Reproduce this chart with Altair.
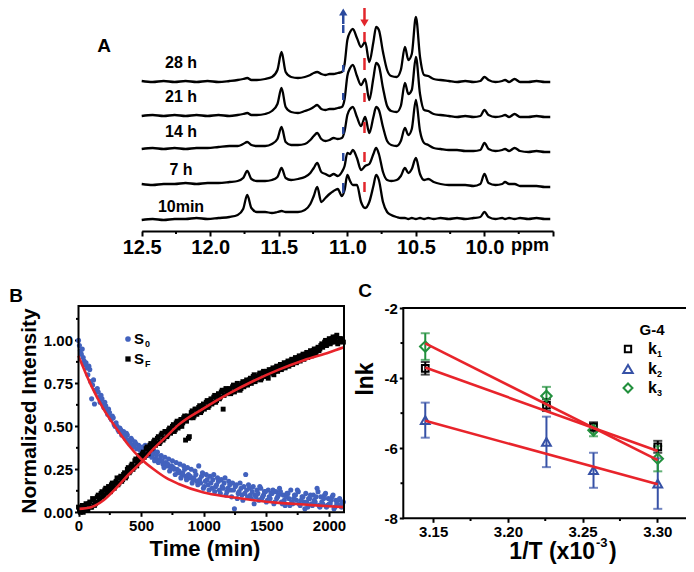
import altair as alt
import pandas as pd

# ======================= Panel A : 1H NMR imino region =======================
ppm = [12.50, 12.42, 12.34, 12.26, 12.18, 12.10, 12.02, 11.94, 11.86, 11.80,
       11.76, 11.73, 11.70, 11.66, 11.60, 11.55, 11.51, 11.48, 11.45, 11.41,
       11.36, 11.31, 11.27, 11.245, 11.22, 11.19, 11.16, 11.13, 11.10, 11.07,
       11.04, 11.02, 11.00, 10.98, 10.96, 10.93, 10.90, 10.87, 10.84, 10.81,
       10.79, 10.77, 10.74, 10.71, 10.68, 10.64, 10.61, 10.58, 10.555, 10.53,
       10.50, 10.47, 10.44, 10.41, 10.37, 10.32, 10.26, 10.20, 10.14, 10.08,
       10.03, 10.00, 9.97, 9.92, 9.87, 9.85, 9.82, 9.78, 9.74, 9.68,
       9.62, 9.56, 9.52]

spec_10min = [-2, -1, -2, -1, -1, 0, -1, 0, 1, 3,
              9, 23, 10, 6, 6, 5, 6, 7, 6, 6,
              6, 8, 14, 22, 31, 16, 20, 24, 27, 29,
              22, 28, 43, 37, 33, 33, 16, 10, 16, 32,
              43, 38, 16, 6, 3, 1, 0, 0, -1, 0,
              -1, 0, -1, 0, -1, 0, -1, 0, -1, 0,
              1, 6, 1, -1, 0, -1, 0, -1, 0, -1,
              0, -1, -1]
spec_7h = [0, -1, 0, 0, 1, 0, 1, 1, 2, 3,
           6, 13, 5, 3, 3, 4, 7, 16, 6, 4,
           5, 7, 11, 16, 21, 12, 10, 8, 10, 8,
           12, 18, 31, 30, 34, 26, 14, 18, 20, 30,
           36, 30, 12, 4, 3, 4, 8, 16, 11, 15,
           26, 10, 4, 5, 2, 0, -1, -1, -1, -2,
           0, 10, 1, -1, 0, 2, 0, 0, -2, -2,
           -2, -3, -3]
spec_14h = [0, 1, 0, 1, 0, 1, 1, 2, 3, 3,
            5, 7, 4, 3, 3, 5, 10, 22, 7, 4,
            4, 5, 9, 13, 16, 10, 8, 9, 11, 10,
            11, 18, 34, 40, 42, 32, 23, 32, 16, 32,
            42, 39, 22, 8, 4, 3, 8, 21, 14, 20,
            49, 18, 6, 4, 1, 0, -1, -1, -2, -2,
            -1, 6, 0, -2, -1, 0, -2, 1, -2, -3,
            -2, -3, -3]
spec_21h = [0, 1, 0, 1, 0, 1, 0, 1, 0, 1,
            2, 3, 1, 1, 2, 5, 12, 28, 9, 4,
            3, 5, 7, 9, 11, 7, 6, 7, 7, 8,
            9, 17, 40, 48, 51, 40, 31, 37, 16, 38,
            53, 50, 28, 10, 5, 4, 10, 33, 22, 26,
            59, 22, 6, 5, 2, 1, 0, -1, 0, -1,
            0, 6, 1, -1, 0, 1, -1, 2, -1, -1,
            0, -1, -1]
spec_28h = [1, 0, 1, 0, 1, 0, 1, 0, 1, 2,
            3, 4, 2, 2, 3, 5, 12, 30, 10, 5,
            4, 5, 7, 9, 10, 8, 7, 8, 8, 9,
            10, 18, 42, 50, 53, 44, 35, 40, 20, 40,
            55, 52, 30, 12, 6, 5, 12, 35, 22, 28,
            65, 25, 7, 6, 3, 2, 1, 0, 1, 0,
            1, 5, 2, 0, 1, 2, 0, 3, 0, 0,
            1, 0, 0]
spec_names = ["10min", "7 h", "14 h", "21 h", "28 h"]
specs = [spec_10min, spec_7h, spec_14h, spec_21h, spec_28h]

# marked resonances (blue: growing, red: decreasing)
blue_ppm = 11.03
red_ppm = 10.875
blue_lo = [38, 70, 97, 131, 159, 198]
blue_hi = [48, 78, 104, 138, 166, 206]
red_lo = [39, 69, 98, 129, 161, 189]
red_hi = [49, 79, 109, 138, 173, 199]
axis_ppm = [12.5, 12.0, 11.5, 11.0, 10.5, 10.0, 9.5]
minor_ppm = [12.25, 11.75, 11.25, 10.75, 10.25, 9.75]

# ======================= Panel B : kinetics =======================
S0 = [1.00, 0.94, 0.95, 0.88, 0.87, 0.80, 0.83, 0.66, 0.77, 0.71,
      0.72, 0.67, 0.68, 0.63, 0.64, 0.59, 0.60, 0.55, 0.56, 0.51,
      0.52, 0.48, 0.49, 0.45, 0.47, 0.43, 0.45, 0.41, 0.43, 0.39,
      0.41, 0.37, 0.39, 0.36, 0.38, 0.34, 0.37, 0.33, 0.36, 0.32,
      0.36, 0.31, 0.35, 0.30, 0.33, 0.28, 0.32, 0.27, 0.31, 0.26,
      0.30, 0.25, 0.29, 0.23, 0.28, 0.22, 0.27, 0.21, 0.26, 0.20,
      0.25, 0.19, 0.24, 0.18, 0.27, 0.17, 0.23, 0.15, 0.22, 0.16,
      0.21, 0.14, 0.22, 0.15, 0.20, 0.13, 0.19, 0.14, 0.20, 0.12,
      0.18, 0.13, 0.17, 0.02, 0.16, 0.11, 0.17, 0.10, 0.15, 0.22,
      0.09, 0.14, 0.08, 0.15, 0.10, 0.13, 0.07, 0.14, 0.09, 0.12,
      0.06, 0.13, 0.08, 0.11, 0.05, 0.12, 0.09, 0.14, 0.06, 0.10,
      0.04, 0.11, 0.08, 0.13, 0.05, 0.10, 0.07, 0.12, 0.04, 0.09,
      0.06, 0.11, 0.03, 0.08, 0.05, 0.10, 0.06, 0.14, 0.04, 0.09,
      0.05, 0.10, 0.03, 0.08, 0.05, 0.09, 0.02, 0.07, 0.04, 0.08,
      0.03, 0.06]
SF = [0.03, 0.00, 0.04, 0.02, 0.05, 0.01, 0.06, 0.03, 0.07, 0.05,
      0.09, 0.07, 0.11, 0.09, 0.13, 0.11, 0.15, 0.12, 0.17, 0.14,
      0.18, 0.16, 0.20, 0.18, 0.22, 0.20, 0.25, 0.23, 0.27, 0.25,
      0.30, 0.27, 0.32, 0.30, 0.34, 0.32, 0.37, 0.34, 0.39, 0.37,
      0.41, 0.39, 0.43, 0.40, 0.45, 0.42, 0.47, 0.44, 0.48, 0.46,
      0.50, 0.47, 0.52, 0.49, 0.53, 0.50, 0.55, 0.42, 0.56, 0.44,
      0.58, 0.55, 0.60, 0.57, 0.61, 0.58, 0.62, 0.60, 0.64, 0.61,
      0.65, 0.63, 0.67, 0.64, 0.68, 0.66, 0.70, 0.60, 0.71, 0.69,
      0.71, 0.69, 0.73, 0.70, 0.72, 0.74, 0.71, 0.75, 0.73, 0.76,
      0.74, 0.77, 0.75, 0.79, 0.76, 0.78, 0.80, 0.77, 0.81, 0.79,
      0.82, 0.78, 0.81, 0.83, 0.80, 0.84, 0.82, 0.85, 0.83, 0.86,
      0.84, 0.87, 0.85, 0.88, 0.86, 0.89, 0.87, 0.90, 0.88, 0.91,
      0.89, 0.92, 0.90, 0.93, 0.91, 0.94, 0.92, 0.95, 0.94, 0.97,
      0.96, 0.99, 0.97, 1.00, 0.98, 1.01, 0.99, 1.02, 0.98, 1.01,
      1.00, 0.99]
# second interleaved set of acquisitions (half-way between the first ones)
S0b = [0.97, 0.92, 0.90, 0.86, 0.84, 0.85, 0.76, 0.74, 0.63, 0.70,
       0.70, 0.64, 0.66, 0.61, 0.62, 0.57, 0.58, 0.54, 0.55, 0.50,
       0.50, 0.47, 0.48, 0.46, 0.44, 0.46, 0.42, 0.40, 0.42, 0.38,
       0.40, 0.37, 0.38, 0.35, 0.36, 0.39, 0.34, 0.35, 0.33, 0.34,
       0.30, 0.33, 0.29, 0.31, 0.30, 0.26, 0.29, 0.28, 0.24, 0.27,
       0.26, 0.22, 0.25, 0.24, 0.20, 0.23, 0.25, 0.19, 0.22, 0.21,
       0.17, 0.20, 0.22, 0.16, 0.19, 0.21, 0.14, 0.18, 0.19, 0.13,
       0.17, 0.19, 0.12, 0.16, 0.18, 0.11, 0.15, 0.17, 0.10, 0.14,
       0.16, 0.09, 0.13, 0.15, 0.08, 0.12, 0.14, 0.07, 0.11, 0.13,
       0.16, 0.10, 0.12, 0.05, 0.09, 0.11, 0.15, 0.08, 0.10, 0.12,
       0.07, 0.09, 0.11, 0.13, 0.06, 0.08, 0.10, 0.12, 0.05, 0.07,
       0.09, 0.11, 0.04, 0.06, 0.08, 0.10, 0.13, 0.05, 0.07, 0.09,
       0.02, 0.06, 0.08, 0.10, 0.04, 0.07, 0.09, 0.12, 0.03, 0.06,
       0.08, 0.11, 0.04, 0.05, 0.07, 0.10, 0.03, 0.05, 0.07, 0.04,
       0.06]
SFb = [0.01, 0.03, 0.00, 0.04, 0.02, 0.05, 0.03, 0.08, 0.04, 0.06,
       0.10, 0.08, 0.12, 0.10, 0.14, 0.12, 0.13, 0.16, 0.15, 0.17,
       0.20, 0.17, 0.21, 0.19, 0.23, 0.21, 0.26, 0.24, 0.28, 0.26,
       0.31, 0.29, 0.33, 0.31, 0.35, 0.33, 0.38, 0.36, 0.40, 0.38,
       0.42, 0.40, 0.44, 0.41, 0.46, 0.43, 0.47, 0.45, 0.49, 0.47,
       0.51, 0.48, 0.53, 0.50, 0.54, 0.52, 0.56, 0.53, 0.43, 0.55,
       0.59, 0.56, 0.60, 0.58, 0.62, 0.59, 0.63, 0.61, 0.65, 0.62,
       0.66, 0.64, 0.68, 0.65, 0.69, 0.67, 0.71, 0.68, 0.72, 0.70,
       0.72, 0.70, 0.74, 0.71, 0.75, 0.73, 0.72, 0.76, 0.74, 0.77,
       0.75, 0.78, 0.76, 0.80, 0.77, 0.79, 0.81, 0.78, 0.82, 0.80,
       0.79, 0.83, 0.81, 0.84, 0.82, 0.85, 0.83, 0.86, 0.84, 0.87,
       0.85, 0.88, 0.86, 0.89, 0.87, 0.90, 0.88, 0.91, 0.89, 0.92,
       0.90, 0.93, 0.91, 0.94, 0.92, 0.95, 0.93, 0.96, 0.95, 0.98,
       0.97, 1.00, 0.98, 1.01, 0.99, 1.02, 1.00, 1.03, 0.99, 1.01,
       1.00]
times = [15 * i for i in range(len(S0))]
times_b = [7.5 + 15 * i for i in range(len(S0b))]
fit_t = [0, 100, 200, 300, 400, 500, 600, 700, 800, 1000, 1200, 1400, 1600, 1800, 2000, 2120]
fit_S0 = [0.91, 0.74, 0.60, 0.49, 0.39, 0.31, 0.25, 0.20, 0.165, 0.115, 0.09, 0.07, 0.055, 0.045, 0.035, 0.03]
fit_SF = [0.02, 0.03, 0.07, 0.14, 0.22, 0.29, 0.37, 0.44, 0.51, 0.605, 0.69, 0.765, 0.83, 0.885, 0.93, 0.96]

# ======================= Panel C : Arrhenius =======================
invT = [3.1447, 3.2258, 3.2573, 3.3003]
lnk1 = [-3.72, -4.77, -5.39, -5.96]
err1 = [0.18, 0.17, 0.13, 0.17]
lnk2 = [-5.20, -5.82, -6.63, -7.01]
err2 = [0.50, 0.72, 0.50, 0.72]
lnk3 = [-3.10, -4.51, -5.49, -6.30]
err3 = [0.38, 0.26, 0.17, 0.36]
fit1 = [-3.70, -6.08]
fit2 = [-5.22, -7.03]
fit3 = [-3.01, -6.34]
series = ["k1", "k2", "k3"]

# ======================= styling / layout =======================
W, H = 678, 556
FONT = "Liberation Sans"
BLUE_PTS = "#4262BE"
RED = "#E8242B"
BLUE_C = "#3651A6"
GREEN_C = "#22903D"
one = pd.DataFrame({"a": [0]})


def txt(s, x, y, size, weight="bold", angle=0, align="center", baseline="middle", font=FONT, color="black"):
    return alt.Chart(one).mark_text(text=s, fontSize=size, fontWeight=weight, angle=angle, align=align,
                                    baseline=baseline, font=font, color=color).encode(
        x=alt.value(x), y=alt.value(y))


def sym(shape, x, y, size, color, filled):
    return alt.Chart(one).mark_point(shape=shape, size=size, color=color, filled=filled, strokeWidth=2,
                                     opacity=1).encode(x=alt.value(x), y=alt.value(y))


def ax(**kw):
    base = dict(grid=False, title=None, tickColor="black", tickWidth=2, labelColor="black", labelFont=FONT,
                labelFontWeight="bold", labelFlush=False, labelOverlap=False)
    base.update(kw)
    return alt.Axis(**base)


# ---------- A ----------
offsets = [13, 47, 82, 115, 149]
rows = []
for name, sp, off in zip(spec_names, specs, offsets):
    for p, v in zip(ppm, sp):
        rows.append({"ppm": p, "y": v + off, "trace": name})
dfA = pd.DataFrame(rows)

xA_scale = alt.Scale(domain=[9.5, 12.5], range=[545, 133.7], nice=False, zero=False)
yA_scale = alt.Scale(domain=[0, 223], range=[223, 0], nice=False, zero=False)
axA = ax(orient="bottom", offset=-(H - 223), values=axis_ppm, domainColor="black", domainWidth=2,
         labelExpr="datum.value < 9.8 ? '' : format(datum.value, '.1f')", tickSize=5, labelFontSize=20,
         labelPadding=1)

linesA = alt.Chart(dfA).mark_line(color="black", strokeWidth=2.3, interpolate="monotone").encode(
    x=alt.X("ppm:Q", scale=xA_scale, axis=axA),
    y=alt.Y("y:Q", scale=yA_scale, axis=None),
    detail="trace:N",
    order=alt.Order("ppm:Q", sort="descending"),
)

MARK_COL = alt.Scale(domain=["b", "r"], range=["#2B4A9E", "#E2262C"])
dash_df = pd.DataFrame({
    "ppm": [blue_ppm] * len(blue_lo) + [red_ppm] * len(red_lo),
    "y1": blue_lo + red_lo,
    "y2": blue_hi + red_hi,
    "c": ["b"] * len(blue_lo) + ["r"] * len(red_lo),
})
dashA = alt.Chart(dash_df).mark_rule(strokeWidth=2.5).encode(
    x=alt.X("ppm:Q", scale=xA_scale), y=alt.Y("y1:Q", scale=yA_scale), y2="y2:Q",
    color=alt.Color("c:N", scale=MARK_COL, legend=None))

arrow_df = pd.DataFrame({"ppm": [blue_ppm, red_ppm], "y1": [207, 211], "y2": [217, 223],
                         "c": ["b", "r"]})
shaftA = alt.Chart(arrow_df).mark_rule(strokeWidth=2.5).encode(
    x=alt.X("ppm:Q", scale=xA_scale), y=alt.Y("y1:Q", scale=yA_scale), y2="y2:Q",
    color=alt.Color("c:N", scale=MARK_COL, legend=None))
headUp = alt.Chart(pd.DataFrame({"ppm": [blue_ppm], "y": [219]})).mark_point(
    shape="triangle-up", filled=True, size=70, color="#2B4A9E", opacity=1).encode(
    x=alt.X("ppm:Q", scale=xA_scale), y=alt.Y("y:Q", scale=yA_scale))
headDown = alt.Chart(pd.DataFrame({"ppm": [red_ppm], "y": [208]})).mark_point(
    shape="triangle-down", filled=True, size=70, color="#E2262C", opacity=1).encode(
    x=alt.X("ppm:Q", scale=xA_scale), y=alt.Y("y:Q", scale=yA_scale))

minorA = alt.Chart(pd.DataFrame({"ppm": minor_ppm})).mark_rule(color="black", strokeWidth=2).encode(
    x=alt.X("ppm:Q", scale=xA_scale), y=alt.value(223), y2=alt.value(226))

label_df = pd.DataFrame({"t": spec_names, "ly": [24, 61, 99, 134, 168]})
labelsA = alt.Chart(label_df).mark_text(font=FONT, fontSize=16, fontWeight="bold", color="black").encode(
    text="t:N", x=alt.value(173), y=alt.Y("ly:Q", scale=yA_scale))

panelA = alt.layer(linesA, dashA, shaftA, headUp, headDown, minorA, labelsA,
                   txt("ppm", 522, 238, 18), txt("A", 96, 38, 19))

# ---------- B ----------
xB_scale = alt.Scale(domain=[0, 2120], range=[70.5, 336], nice=False, zero=False)
yB_scale = alt.Scale(domain=[0, 1.2], range=[504.3, 298], nice=False, zero=False)
axBx = ax(orient="bottom", offset=504.3 - H, values=[0, 500, 1000, 1500, 2000], format="d", domain=False,
          tickSize=4, labelFontSize=15, labelPadding=2)
axBy = ax(orient="left", offset=-70.5, values=[0, 0.25, 0.5, 0.75, 1.0], format=".2f", domain=False,
          tickSize=4, labelFontSize=15, labelPadding=2)

dfB = pd.DataFrame({"t": times + times_b, "S0": S0 + S0b, "SF": SF + SFb})
ptsS0 = alt.Chart(dfB).mark_circle(size=26, color=BLUE_PTS, opacity=1).encode(
    x=alt.X("t:Q", scale=xB_scale, axis=axBx), y=alt.Y("S0:Q", scale=yB_scale, axis=axBy))
ptsSF = alt.Chart(dfB).mark_square(size=24, color="black", opacity=1).encode(
    x=alt.X("t:Q", scale=xB_scale), y=alt.Y("SF:Q", scale=yB_scale))
dfFit = pd.DataFrame({"t": fit_t * 2, "v": fit_S0 + fit_SF, "s": ["S0"] * len(fit_t) + ["SF"] * len(fit_t)})
fitB = alt.Chart(dfFit).mark_line(color=RED, strokeWidth=2.6, interpolate="monotone").encode(
    x=alt.X("t:Q", scale=xB_scale), y=alt.Y("v:Q", scale=yB_scale), detail="s:N")
frameB = alt.Chart(pd.DataFrame({"x1": [0], "x2": [2120], "y1": [0], "y2": [1.2]})).mark_rect(
    fillOpacity=0, stroke="black", strokeWidth=2).encode(
    x=alt.X("x1:Q", scale=xB_scale), x2="x2:Q", y=alt.Y("y1:Q", scale=yB_scale), y2="y2:Q")
minorBx = alt.Chart(pd.DataFrame({"t": [250, 750, 1250, 1750]})).mark_rule(color="black", strokeWidth=2).encode(
    x=alt.X("t:Q", scale=xB_scale), y=alt.value(504.3), y2=alt.value(507))
minorBy = alt.Chart(pd.DataFrame({"v": [0.125, 0.375, 0.625, 0.875, 1.125]})).mark_rule(
    color="black", strokeWidth=2).encode(
    y=alt.Y("v:Q", scale=yB_scale), x=alt.value(70.5), x2=alt.value(68))

panelB = alt.layer(
    ptsS0, ptsSF, fitB, frameB, minorBx, minorBy,
    sym("circle", 120, 331, 32, BLUE_PTS, True), txt("S", 126, 331, 15, align="left"),
    txt("0", 137, 336, 9, align="left"),
    sym("square", 120, 351, 28, "black", True), txt("S", 126, 351, 15, align="left"),
    txt("F", 137, 356, 9, align="left"),
    txt("Normalized Intensity", 22, 403, 21, angle=270),
    txt("Time (min)", 197, 541, 22),
    txt("B", 8, 288, 19),
)

# ---------- C ----------
xC_scale = alt.Scale(domain=[3.13, 3.32], range=[395.3, 679.2], nice=False, zero=False)
yC_scale = alt.Scale(domain=[-8, -2], range=[510.3, 300], nice=False, zero=False)
axCx = ax(orient="bottom", offset=510.3 - H, values=[3.15, 3.20, 3.25, 3.30], format=".2f", domain=False,
          tickSize=4, labelFontSize=15, labelPadding=2)
axCy = ax(orient="left", offset=-395.3, values=[-8, -6, -4, -2], labelExpr="'' + datum.value", domain=False,
          tickSize=4, labelFontSize=15, labelPadding=2)

rowsC = []
for s, ys, es in zip(series, [lnk1, lnk2, lnk3], [err1, err2, err3]):
    for xv, yv, ev in zip(invT, ys, es):
        rowsC.append({"x": xv, "y": yv, "lo": yv - ev, "hi": yv + ev, "s": s})
dfC = pd.DataFrame(rowsC)
colC = alt.Color("s:N", scale=alt.Scale(domain=series, range=["black", BLUE_C, GREEN_C]), legend=None)
errC = alt.Chart(dfC).mark_rule(strokeWidth=2).encode(
    x=alt.X("x:Q", scale=xC_scale, axis=axCx), y=alt.Y("lo:Q", scale=yC_scale, axis=axCy), y2="hi:Q", color=colC)
capLo = alt.Chart(dfC).mark_tick(orient="horizontal", size=9, thickness=2).encode(
    x=alt.X("x:Q", scale=xC_scale), y=alt.Y("lo:Q", scale=yC_scale), color=colC)
capHi = alt.Chart(dfC).mark_tick(orient="horizontal", size=9, thickness=2).encode(
    x=alt.X("x:Q", scale=xC_scale), y=alt.Y("hi:Q", scale=yC_scale), color=colC)
ptsC = alt.Chart(dfC).mark_point(filled=False, strokeWidth=2, opacity=1).encode(
    x=alt.X("x:Q", scale=xC_scale), y=alt.Y("y:Q", scale=yC_scale), color=colC,
    shape=alt.Shape("s:N", scale=alt.Scale(domain=series, range=["square", "triangle-up", "diamond"]), legend=None),
    size=alt.Size("s:N", scale=alt.Scale(domain=series, range=[45, 110, 95]), legend=None))
dfFitC = pd.DataFrame({"x": [invT[0], invT[-1]] * 3, "y": fit1 + fit2 + fit3,
                       "s": ["k1", "k1", "k2", "k2", "k3", "k3"]})
fitC = alt.Chart(dfFitC).mark_line(color=RED, strokeWidth=2.6).encode(
    x=alt.X("x:Q", scale=xC_scale), y=alt.Y("y:Q", scale=yC_scale), detail="s:N")
frameC = alt.Chart(pd.DataFrame({"x1": [3.13], "x2": [3.32], "y1": [-8], "y2": [-2]})).mark_rect(
    fillOpacity=0, stroke="black", strokeWidth=2).encode(
    x=alt.X("x1:Q", scale=xC_scale), x2="x2:Q", y=alt.Y("y1:Q", scale=yC_scale), y2="y2:Q")
minorCx = alt.Chart(pd.DataFrame({"x": [3.175, 3.225, 3.275]})).mark_rule(color="black", strokeWidth=2).encode(
    x=alt.X("x:Q", scale=xC_scale), y=alt.value(510.3), y2=alt.value(513))
minorCy = alt.Chart(pd.DataFrame({"y": [-7, -5, -3]})).mark_rule(color="black", strokeWidth=2).encode(
    y=alt.Y("y:Q", scale=yC_scale), x=alt.value(395.3), x2=alt.value(392.5))

panelC = alt.layer(
    errC, capLo, capHi, ptsC, fitC, frameC, minorCx, minorCy,
    txt("G-4", 644, 322, 15),
    sym("square", 620, 341, 40, "black", False), txt("k", 640, 341, 16, align="left"),
    txt("1", 649, 346, 9, align="left"),
    sym("triangle-up", 620, 361, 90, BLUE_C, False), txt("k", 640, 361, 16, align="left"),
    txt("2", 649, 366, 9, align="left"),
    sym("diamond", 620, 380, 80, GREEN_C, False), txt("k", 640, 380, 16, align="left"),
    txt("3", 649, 385, 9, align="left"),
    txt("lnk", 358, 371, 23, angle=270),
    txt("1/T (x10", 587, 544, 23, align="right"),
    txt("-3", 588, 535, 13, align="left"),
    txt(")", 601, 544, 23, align="left"),
    txt("C", 357, 283, 19),
)

chart = alt.layer(panelA, panelB, panelC).resolve_scale(
    x="independent", y="independent", color="independent", shape="independent", size="independent"
).properties(
    width=W, height=H, padding=0, autosize=alt.AutoSizeParams(type="none")
).configure_view(strokeWidth=0)

chart.save("out.html", embed_options={"renderer": "svg", "actions": False})
